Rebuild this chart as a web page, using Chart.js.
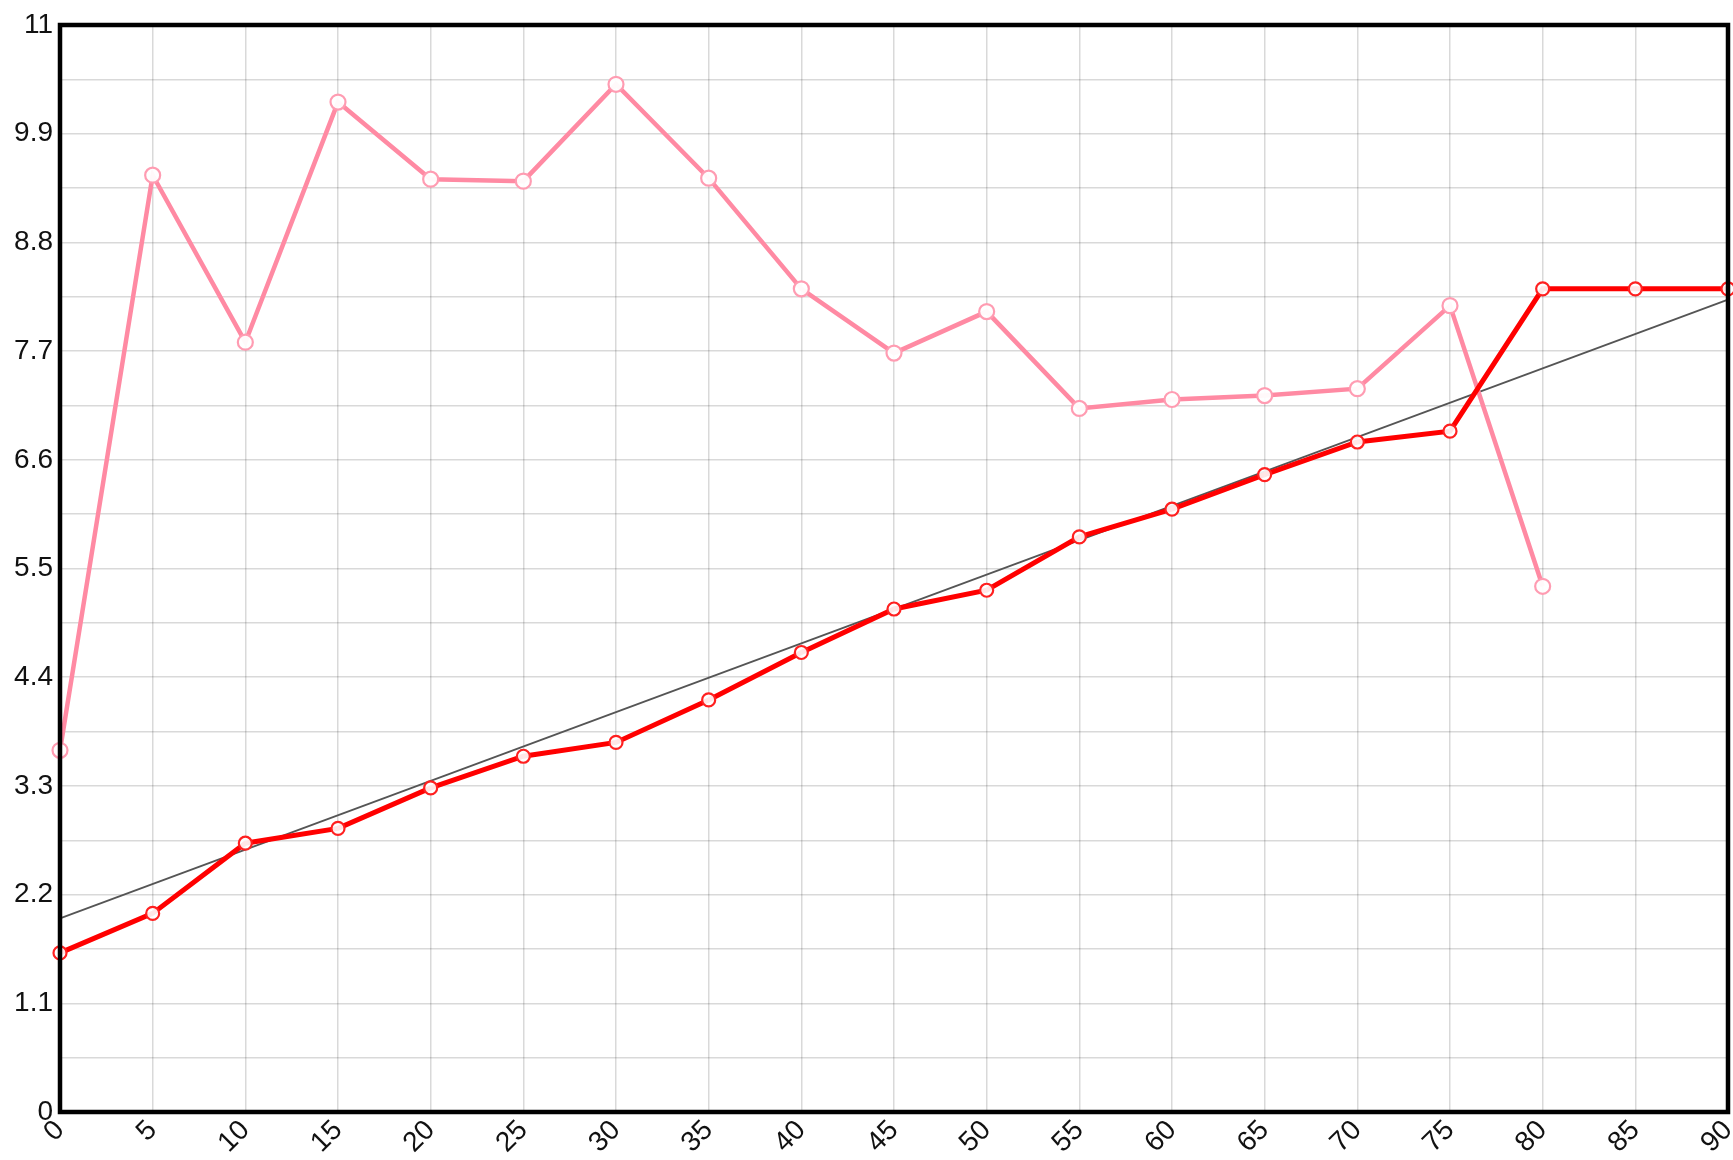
<!DOCTYPE html>
<html>
<head>
<meta charset="utf-8">
<script src="https://cdn.jsdelivr.net/npm/chart.js@4/dist/chart.umd.min.js"></script>
<style>
  html, body { margin: 0; padding: 0; background: #ffffff; }
  #wrap { width: 1733px; height: 1160px; }
</style>
</head>
<body>
<div id="wrap"><canvas id="c" width="1733" height="1160"></canvas></div>
<script>
// ---- data ----
const xValues = [0, 5, 10, 15, 20, 25, 30, 35, 40, 45, 50, 55, 60, 65, 70, 75, 80, 85, 90];
const pinkValues = [3.66, 9.48, 7.79, 10.22, 9.44, 9.42, 10.40, 9.45, 8.33, 7.68, 8.10, 7.12, 7.21, 7.25, 7.32, 8.16, 5.32];
const redValues = [1.61, 2.01, 2.72, 2.87, 3.28, 3.60, 3.74, 4.17, 4.65, 5.09, 5.28, 5.82, 6.10, 6.45, 6.78, 6.89, 8.33, 8.33, 8.33];
const trendX = [0, 90];
const trendY = [1.96, 8.22];
const yTickLabels = ['0', '1.1', '2.2', '3.3', '4.4', '5.5', '6.6', '7.7', '8.8', '9.9', '11'];
const yGridStep = 0.55;
const yMax = 11;
const xMax = 90;
const xStep = 5;

const toPoints = (xs, ys) => ys.map((y, i) => ({ x: xs[i], y: y }));

const frame = {
  id: 'frame',
  afterDatasetsDraw(chart) {
    const a = chart.chartArea, ctx = chart.ctx;
    ctx.save();
    ctx.strokeStyle = '#000';
    ctx.lineWidth = 4.5;
    ctx.strokeRect(a.left, a.top, a.right - a.left, a.bottom - a.top);
    ctx.restore();
  }
};

new Chart(document.getElementById('c'), {
  type: 'line',
  data: {
    datasets: [
      {
        label: 'red',
        data: toPoints(xValues, redValues),
        borderColor: '#ff0000',
        backgroundColor: '#ffffff',
        borderWidth: 5,
        pointRadius: 6.5,
        pointBorderWidth: 2.2,
        pointBorderColor: '#ff2020',
        pointBackgroundColor: 'rgba(255,255,255,0.9)',
        tension: 0,
        clip: false,
        order: 1
      },
      {
        label: 'pink',
        data: toPoints(xValues, pinkValues),
        borderColor: '#ff8aa3',
        backgroundColor: '#ffffff',
        borderWidth: 4.5,
        pointRadius: 7.5,
        pointBorderWidth: 2.2,
        pointBorderColor: '#ff9cb2',
        pointBackgroundColor: 'rgba(255,255,255,0.95)',
        tension: 0,
        clip: false,
        order: 2
      },
      {
        label: 'trend',
        data: toPoints(trendX, trendY),
        borderColor: '#555555',
        borderWidth: 1.8,
        pointRadius: 0,
        tension: 0,
        clip: false,
        order: 3
      }
    ]
  },
  options: {
    responsive: false,
    animation: false,
    devicePixelRatio: 1,
    layout: { autoPadding: false, padding: { top: 25, right: 5, left: 0, bottom: 0 } },
    plugins: { legend: { display: false }, tooltip: { enabled: false } },
    scales: {
      x: {
        type: 'linear',
        min: 0,
        max: xMax,
        afterFit(scale) { scale.height = 48; scale.paddingRight = 0; scale.paddingLeft = 0; },
        ticks: {
          stepSize: xStep,
          autoSkip: false,
          maxRotation: 45,
          minRotation: 45,
          padding: 2,
          color: '#111',
          font: { family: 'Liberation Sans, Arial, sans-serif', size: 28 }
        },
        grid: { color: 'rgba(0,0,0,0.15)', lineWidth: 1.5, drawTicks: false },
        border: { display: false }
      },
      y: {
        type: 'linear',
        min: 0,
        max: yMax,
        afterFit(scale) { scale.width = 60; scale.paddingTop = 0; scale.paddingBottom = 0; },
        afterBuildTicks(scale) {
          const n = Math.round(yMax / yGridStep);
          const t = [];
          for (let i = 0; i <= n; i++) t.push({ value: i * yGridStep });
          scale.ticks = t;
        },
        ticks: {
          autoSkip: false,
          padding: 7,
          color: '#111',
          font: { family: 'Liberation Sans, Arial, sans-serif', size: 28 },
          callback: (v, i) => (i % 2 === 0 ? yTickLabels[i / 2] : '')
        },
        grid: { color: 'rgba(0,0,0,0.15)', lineWidth: 1.5, drawTicks: false },
        border: { display: false }
      }
    }
  },
  plugins: [frame]
});
</script>
</body>
</html>
